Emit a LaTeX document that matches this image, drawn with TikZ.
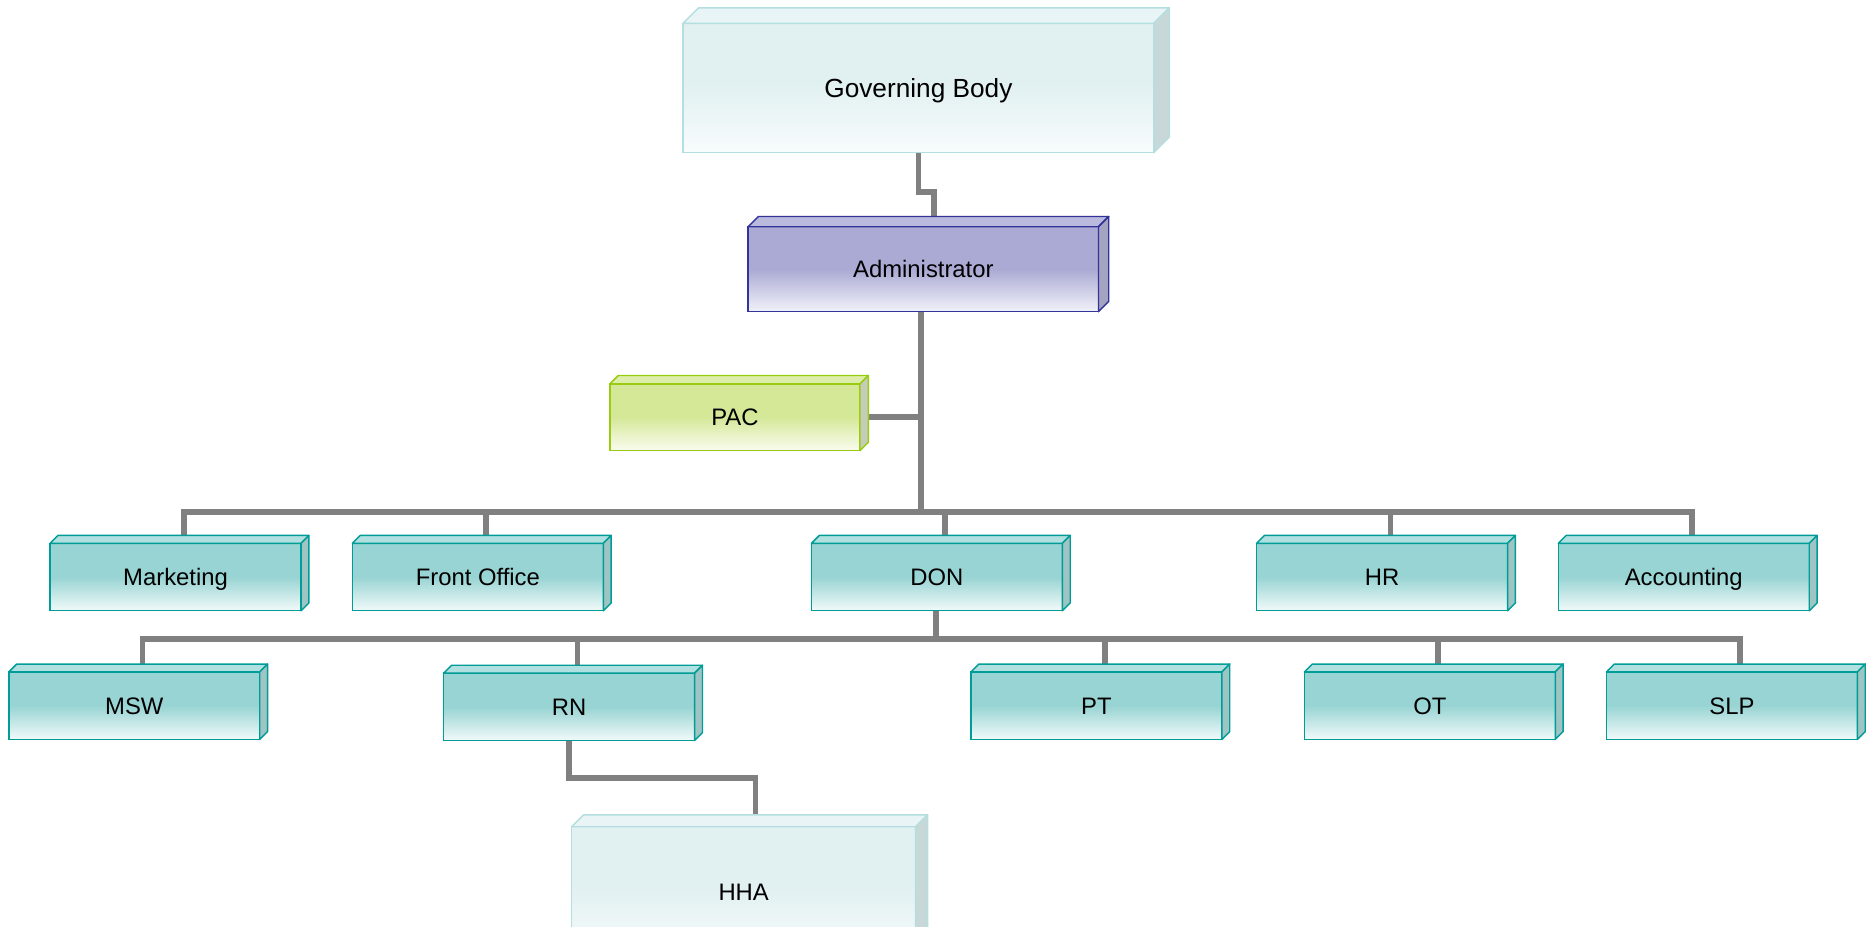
\documentclass[tikz,border=0pt]{standalone}
\usepackage{fontspec}
\setmainfont{Liberation Sans}
\usetikzlibrary{calc,backgrounds}
\definecolor{tealA}{HTML}{98D4D3}
\definecolor{tealLow}{HTML}{F2FAFA}
\definecolor{tealTop}{HTML}{B0E0DF}
\definecolor{tealSide}{HTML}{9EC4C3}
\definecolor{tealLine}{HTML}{009C98}
\definecolor{paleA}{HTML}{E1F0F1}
\definecolor{paleLow}{HTML}{F8FCFC}
\definecolor{paleTop}{HTML}{E8F4F5}
\definecolor{paleSide}{HTML}{C8D8D8}
\definecolor{paleLine}{HTML}{B4DEE0}
\definecolor{blueA}{HTML}{AAAAD4}
\definecolor{blueLow}{HTML}{F2F2FA}
\definecolor{blueTop}{HTML}{BABADE}
\definecolor{blueSide}{HTML}{A4A4C2}
\definecolor{blueLine}{HTML}{333399}
\definecolor{greenA}{HTML}{D5E898}
\definecolor{greenLow}{HTML}{FAFCF0}
\definecolor{greenTop}{HTML}{DDEDAA}
\definecolor{greenSide}{HTML}{C6CCB8}
\definecolor{greenLine}{HTML}{99CC11}
\definecolor{connGray}{HTML}{808080}
\pgfdeclareverticalshading{tealfade}{100bp}{color(0bp)=(tealLow); color(25bp)=(tealLow); color(50bp)=(tealA); color(100bp)=(tealA)}
\pgfdeclareverticalshading{palefade}{100bp}{color(0bp)=(paleLow); color(25bp)=(paleLow); color(52bp)=(paleA); color(100bp)=(paleA)}
\pgfdeclareverticalshading{bluefade}{100bp}{color(0bp)=(blueLow); color(25bp)=(blueLow); color(50bp)=(blueA); color(100bp)=(blueA)}
\pgfdeclareverticalshading{greenfade}{100bp}{color(0bp)=(greenLow); color(25bp)=(greenLow); color(50bp)=(greenA); color(100bp)=(greenA)}
\newcommand{\extrude}[5]{%
  \filldraw[draw=#5, fill=#3, line width=1.2pt, line join=round]
    (#1.north west) -- ++(#2,-#2) -- ($(#1.north east)+(#2,-#2)$) -- (#1.north east) -- cycle;
  \filldraw[draw=#5, fill=#4, line width=1.2pt, line join=round]
    (#1.north east) -- ++(#2,-#2) -- ($(#1.south east)+(#2,-#2)$) -- (#1.south east) -- cycle;}
\tikzset{
  orgbox/.style={rectangle, inner sep=0pt, outer sep=0pt, line width=1.2pt,
    font=\fontsize{20}{24}\selectfont, text=black, text height=14.3pt, text depth=0pt},
  tealbox/.style={orgbox, draw=tealLine, shading=tealfade, minimum width=210.5pt, minimum height=56.6pt},
  palebox/.style={orgbox, draw=paleLine, shading=palefade},
  bluebox/.style={orgbox, draw=blueLine, shading=bluefade},
  greenbox/.style={orgbox, draw=greenLine, shading=greenfade},
  conn/.style={draw=connGray, line width=4.8pt, line cap=rect}
}
\begin{document}
\begin{tikzpicture}[x=1pt,y=-1pt]
\useasboundingbox (0,0) rectangle (1568,777);
% top levels
\node[palebox, minimum width=395pt, minimum height=108.4pt, font=\fontsize{22}{26}\selectfont, text height=15.8pt] (gb) at (770.5,73.8) {Governing Body};
\extrude{gb}{13}{paleTop}{paleSide}{paleLine}
\node[bluebox, minimum width=293.9pt, minimum height=71.3pt] (admin) at (774.65,225.85) {Administrator};
\extrude{admin}{8.6}{blueTop}{blueSide}{blueLine}
\node[greenbox, minimum width=209.8pt, minimum height=56pt] (pac) at (616.6,350) {PAC};
\extrude{pac}{7}{greenTop}{greenSide}{greenLine}
% level 2
\node[tealbox] (mkt) at (147.3,484.1) {Marketing};
\node[tealbox] (fo)  at (400.9,484.1) {Front Office};
\node[tealbox] (don) at (786,484.1) {DON};
\node[tealbox] (hr)  at (1159.5,484.1) {HR};
\node[tealbox] (acc) at (1412.6,484.1) {Accounting};
\foreach \n in {mkt,fo,don,hr,acc} {\extrude{\n}{6.6}{tealTop}{tealSide}{tealLine}}
% level 3
\node[tealbox] (msw) at (112.65,592) {MSW};
\node[tealbox] (rn)  at (477.5,593) {RN};
\node[tealbox] (pt)  at (919.85,592) {PT};
\node[tealbox] (ot)  at (1199.55,592) {OT};
\node[tealbox] (slp) at (1453,592) {SLP};
\foreach \n in {msw,rn,pt,ot,slp} {\extrude{\n}{6.6}{tealTop}{tealSide}{tealLine}}
% level 4
\node[palebox, minimum width=288.6pt, minimum height=109pt] (hha) at (623.9,748.1) {HHA};
\extrude{hha}{10}{paleTop}{paleSide}{paleLine}
% bus coordinates
\coordinate (bus) at (772.5,429.3);
\coordinate (sbus) at (785.5,536.1);
\begin{scope}[on background layer]
  \draw[conn] (gb.south) -- ++(0,32.8) -| ($(admin.north)+(8.7,0)$);
  \draw[conn] (admin.south -| bus) -- (bus);
  \draw[conn] (pac.east) -- (pac.east -| bus);
  \foreach \n in {mkt,fo,don,hr,acc} {\draw[conn] ($(\n.north)+(7,0)$) |- (bus);}
  \draw[conn] (don.south -| sbus) -- (sbus);
  \foreach \n in {msw,rn,pt,ot,slp} {\draw[conn] ($(\n.north)+(7,0)$) |- (sbus);}
  \draw[conn] (rn.south) -- ++(0,31.3) -| ($(hha.north)+(10,0)$);
\end{scope}
\end{tikzpicture}
\end{document}
